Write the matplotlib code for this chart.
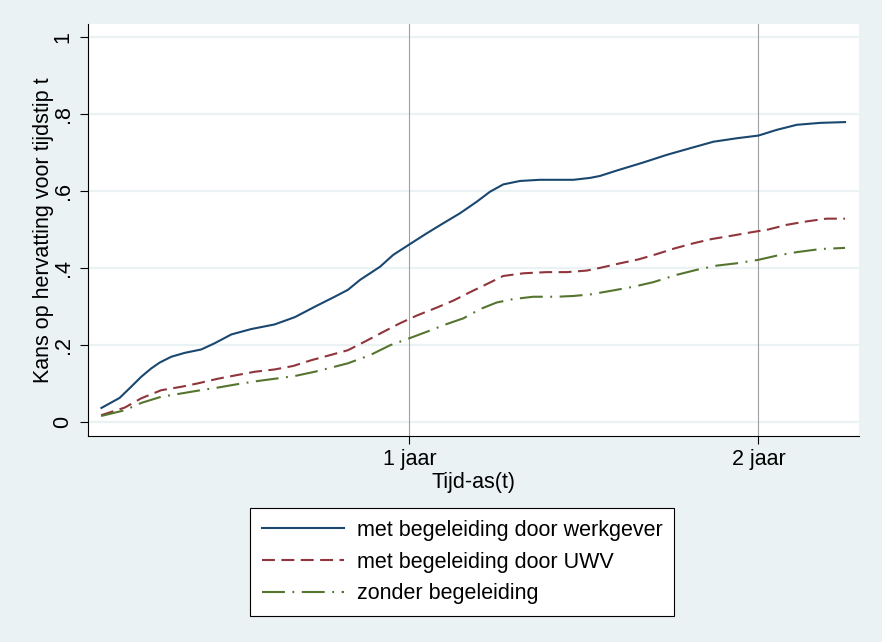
import matplotlib.pyplot as plt

plt.rcParams['font.family'] = ['Liberation Sans', 'DejaVu Sans']

# time in years, cumulative probability of return to work
t_werkgever = [0.118, 0.170, 0.203, 0.232, 0.261, 0.285, 0.318, 0.356, 0.404, 0.442,
               0.490, 0.547, 0.614, 0.672, 0.729, 0.786, 0.824, 0.859, 0.916, 0.954,
               1.000, 1.050, 1.097, 1.145, 1.193, 1.231, 1.269, 1.317, 1.374, 1.470,
               1.518, 1.546, 1.594, 1.670, 1.738, 1.804, 1.871, 1.938, 2.000, 2.053,
               2.110, 2.177, 2.248]
p_werkgever = [0.036, 0.062, 0.091, 0.117, 0.139, 0.154, 0.169, 0.179, 0.188, 0.204,
               0.227, 0.241, 0.253, 0.272, 0.299, 0.325, 0.343, 0.369, 0.403, 0.434,
               0.461, 0.490, 0.516, 0.542, 0.572, 0.598, 0.617, 0.626, 0.629, 0.629,
               0.634, 0.639, 0.653, 0.674, 0.694, 0.711, 0.728, 0.737, 0.744, 0.759,
               0.772, 0.777, 0.779]

t_uwv = [0.117, 0.185, 0.232, 0.289, 0.347, 0.395, 0.452, 0.504, 0.557, 0.614,
         0.667, 0.719, 0.772, 0.824, 0.878, 0.926, 0.973, 1.021, 1.079, 1.126,
         1.174, 1.222, 1.269, 1.327, 1.394, 1.451, 1.508, 1.546, 1.604, 1.656,
         1.709, 1.761, 1.814, 1.866, 1.919, 1.976, 2.029, 2.081, 2.139, 2.195, 2.248]
p_uwv = [0.017, 0.037, 0.061, 0.082, 0.091, 0.100, 0.112, 0.121, 0.130, 0.136,
         0.145, 0.160, 0.173, 0.186, 0.211, 0.234, 0.256, 0.276, 0.297, 0.315,
         0.337, 0.358, 0.379, 0.386, 0.389, 0.389, 0.393, 0.400, 0.412, 0.422,
         0.436, 0.451, 0.464, 0.475, 0.483, 0.492, 0.500, 0.512, 0.521, 0.528, 0.528]

t_zonder = [0.117, 0.185, 0.232, 0.289, 0.356, 0.395, 0.452, 0.509, 0.566, 0.624,
            0.672, 0.729, 0.777, 0.824, 0.887, 0.945, 1.000, 1.050, 1.107, 1.155,
            1.203, 1.250, 1.298, 1.355, 1.422, 1.470, 1.518, 1.575, 1.642, 1.699,
            1.766, 1.823, 1.881, 1.938, 2.000, 2.053, 2.110, 2.177, 2.248]
p_zonder = [0.015, 0.030, 0.049, 0.065, 0.075, 0.081, 0.089, 0.098, 0.106, 0.113,
            0.119, 0.130, 0.141, 0.152, 0.173, 0.199, 0.217, 0.234, 0.254, 0.269,
            0.293, 0.310, 0.319, 0.325, 0.325, 0.327, 0.331, 0.340, 0.351, 0.363,
            0.382, 0.395, 0.406, 0.412, 0.421, 0.432, 0.441, 0.449, 0.452]

labels = ['met begeleiding door werkgever', 'met begeleiding door UWV', 'zonder begeleiding']
xticks = [1, 2]
xticklabels = ['1 jaar', '2 jaar']
yticks = [0, 0.2, 0.4, 0.6, 0.8, 1]
yticklabels = ['0', '.2', '.4', '.6', '.8', '1']

bg = '#EAF2F3'
fs = 15.5

fig = plt.figure(figsize=(8.82, 6.42), dpi=100, facecolor=bg)
ax = fig.add_axes([87.5 / 882, 1 - 436 / 642, (859 - 87.5) / 882, (436 - 24) / 642])
ax.set_facecolor('white')

ax.plot(t_werkgever, p_werkgever, color='#1A476F', lw=1.5, label=labels[0], zorder=3)
ax.plot(t_uwv, p_uwv, color='#90353B', lw=1.5, ls=(0, (6.2, 3.1)), label=labels[1], zorder=3)
ax.plot(t_zonder, p_zonder, color='#55752F', lw=1.5, ls=(0, (11.0, 3.6, 0.9, 3.6)),
        label=labels[2], zorder=3)

ax.set_xlim(0.078, 2.288)
ax.set_ylim(-0.037, 1.034)

ax.set_xticks(xticks, xticklabels)
ax.set_yticks(yticks, yticklabels)
for y in yticks:
    ax.axhline(y, color=bg, lw=1.6, zorder=1)
for x in xticks:
    ax.axvline(x, color='#A0A0A0', lw=0.8, zorder=2)

ax.tick_params(axis='both', direction='out', length=6, width=0.8, labelsize=fs, colors='black')
ax.tick_params(axis='y', labelrotation=90, pad=4)
ax.tick_params(axis='x', pad=3)
for lab in ax.get_yticklabels():
    lab.set_va('center')

for s in ['top', 'right']:
    ax.spines[s].set_visible(False)
for s in ['left', 'bottom']:
    ax.spines[s].set_linewidth(0.8)
    ax.spines[s].set_color('black')

ax.set_ylabel('Kans op hervatting voor tijdstip t', fontsize=fs, labelpad=-1)
ax.set_xlabel('Tijd-as(t)', fontsize=fs, labelpad=2)

leg = fig.legend(loc='upper left', bbox_to_anchor=(250 / 882, 1 - 508 / 642),
                 fontsize=fs, frameon=True, fancybox=False, framealpha=1,
                 edgecolor='black', facecolor='white', handlelength=3.8,
                 handletextpad=0.6, borderpad=0.55, labelspacing=0.5, borderaxespad=0)
leg.get_frame().set_linewidth(0.8)

fig.savefig('out.png', dpi=100, facecolor=bg)
